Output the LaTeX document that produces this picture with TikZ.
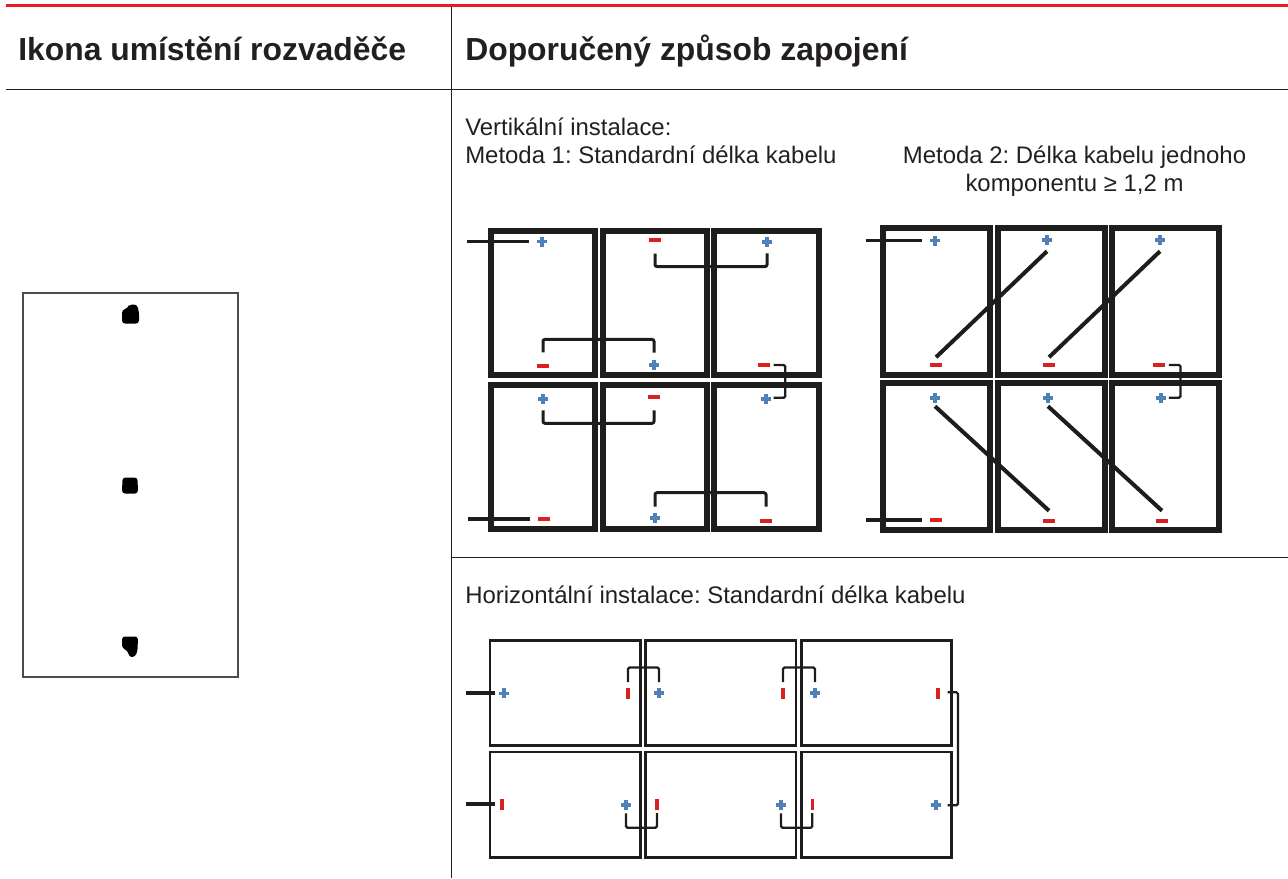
\documentclass[tikz,border=0pt]{standalone}
\usepackage{fontspec}
\setmainfont{Liberation Sans}
\frenchspacing
\usetikzlibrary{calc}
\definecolor{linered}{HTML}{ED1C24}
\definecolor{ink}{HTML}{231F20}
\definecolor{frame}{HTML}{1D1D1B}
\definecolor{termblue}{HTML}{4F81B8}
\definecolor{termred}{HTML}{D92020}
\def\px{0.75pt}
\tikzset{
	head/.style={anchor=base west, inner sep=0pt, text=ink, font=\fontsize{23.9}{28}\selectfont\bfseries},
	body/.style={anchor=base west, inner sep=0pt, text=ink, font=\fontsize{17.95}{22}\selectfont},
	rule/.style={ink, line width=1*\px},
	panelA/.style={draw=frame, line width=6*\px, inner sep=0pt, minimum width=104.5*\px, minimum height=144*\px},
	panelB/.style={draw=frame, line width=6*\px, inner sep=0pt, minimum width=107*\px, minimum height=147*\px},
	panelC/.style={draw=frame, line width=2.8*\px, inner sep=0pt, minimum width=150.5*\px, minimum height=105.5*\px},
	termplus/.style={inner sep=0pt, minimum size=10*\px, path picture={
		\fill[termblue] ([shift={(-5*\px,-1.8*\px)}]path picture bounding box.center) rectangle ([shift={(5*\px,1.8*\px)}]path picture bounding box.center);
		\fill[termblue] ([shift={(-1.8*\px,-5*\px)}]path picture bounding box.center) rectangle ([shift={(1.8*\px,5*\px)}]path picture bounding box.center);}},
	termminus/.style={fill=termred, inner sep=0pt, minimum width=12*\px, minimum height=4*\px},
	termminusv/.style={fill=termred, inner sep=0pt, minimum width=4*\px, minimum height=11*\px},
	lead/.style={frame, line width=3.8*\px},
	wire/.style={frame, line width=3*\px, rounded corners=2*\px},
	wirethin/.style={frame, line width=2.2*\px, rounded corners=1.5*\px},
	diag/.style={frame, line width=4*\px},
	blob/.style={fill=black, rounded corners=3*\px}
}
\begin{document}
\begin{tikzpicture}[x=0.75pt, y=-0.75pt]
	\useasboundingbox (0,0) rectangle (1288,878);

	% table rules
	\coordinate (ruleL) at (6,89.5);
	\coordinate (ruleR) at (1288,89.5);
	\coordinate (colT) at (451.5,7);
	\coordinate (colB) at (451.5,878);
	\coordinate (midL) at (451.5,557.5);
	\coordinate (midR) at (1288,557.5);
	\coordinate (topL) at (6,5.3);
	\coordinate (topR) at (1288,5.3);
	\draw[linered, line width=3*\px] (topL) -- (topR);
	\draw[rule] (ruleL) -- (ruleR);
	\draw[rule] (colT) -- (colB);
	\draw[rule] (midL) -- (midR);

	% texts
	\node[head] (headL) at (18,60.5) {Ikona umístění rozvaděče};
	\node[head] (headR) at (465,60.5) {Doporučený způsob zapojení};
	\node[body] (vert) at (465,135) {Vertikální instalace:};
	\node[body] (met1) at (465,163) {Metoda 1: Standardní délka kabelu};
	\node[body, anchor=base] (met2a) at (1074.5,163) {Metoda 2: Délka kabelu jednoho};
	\node[body, anchor=base] (met2b) at (1074.5,191) {komponentu ≥ 1,2 m};
	\node[body] (horiz) at (465,603) {Horizontální instalace: Standardní délka kabelu};

	% icon
	\node[draw=black!70, line width=1.2*\px, inner sep=0pt, minimum width=215*\px, minimum height=384*\px] (icon) at (130.5,485) {};
	\fill[blob] (122,310) -- (128,308) -- (129,304.5) -- (137,304.5) -- (139,312) -- (139,323.5) -- (122,323.5) -- cycle;
	\fill[blob] (122.5,477.5) -- (137.5,477.5) -- (138,493.5) -- (122,493.5) -- cycle;
	\fill[blob] (122,636.5) -- (138,636.5) -- (137.5,651) -- (135,657) -- (129,657) -- (128,651) -- (122,648) -- cycle;

	% metoda 1
	\node[panelA] (A11) at (543.2,303) {};
	\node[panelA] (A12) at (655,303) {};
	\node[panelA] (A13) at (766.6,303) {};
	\node[panelA] (A21) at (543.2,457) {};
	\node[panelA] (A22) at (655,457) {};
	\node[panelA] (A23) at (766.6,457) {};

	\node[termplus] (A11p) at (542,241.5) {};
	\node[termminus] (A11m) at (543,366) {};
	\node[termminus] (A12m) at (655,240) {};
	\node[termplus] (A12p) at (654,365) {};
	\node[termplus] (A13p) at (767,242) {};
	\node[termminus] (A13m) at (764,365) {};
	\node[termplus] (A21p) at (543,399) {};
	\node[termminus] (A21m) at (544,519) {};
	\node[termminus] (A22m) at (654,397) {};
	\node[termplus] (A22p) at (655,518) {};
	\node[termplus] (A23p) at (766,399) {};
	\node[termminus] (A23m) at (766,521) {};

	\coordinate (A1in) at (467,241.5);
	\coordinate (A2in) at (468,519);
	\draw[lead] (A1in) -- ([xshift=-8*\px]A11p.west);
	\draw[lead] (A2in) -- ([xshift=-8*\px]A21m.west);
	\draw[wire] ([yshift=-11.3*\px]A12m.south) -- ++(0,13) -| ([yshift=-6*\px]A13p.south);
	\draw[wire] ([yshift=11.3*\px]A11m.north) -- ++(0,-13) -| ([yshift=7*\px]A12p.north);
	\draw[wire] ([yshift=-6*\px]A21p.south) -- ++(0,13) -| ([yshift=-11*\px]A22m.south);
	\draw[wire] ([yshift=6*\px]A22p.north) -- ++(0,-14) -| ([yshift=12*\px]A23m.north);
	\draw[wirethin] ([xshift=3.3*\px]A13m.east) -- ++(11.7,0) |- ([shift={(2.3*\px,1.3*\px)}]A23p.east);

	% metoda 2
	\node[panelB] (B11) at (936.6,301.6) {};
	\node[panelB] (B12) at (1051.2,301.6) {};
	\node[panelB] (B13) at (1165.4,301.6) {};
	\node[panelB] (B21) at (936.6,456.6) {};
	\node[panelB] (B22) at (1051.2,456.6) {};
	\node[panelB] (B23) at (1165.4,456.6) {};

	\node[termplus] (B11p) at (935,240.5) {};
	\node[termminus] (B11m) at (936,365) {};
	\node[termplus] (B12p) at (1047,240) {};
	\node[termminus] (B12m) at (1049,365) {};
	\node[termplus] (B13p) at (1160,240) {};
	\node[termminus] (B13m) at (1159,365) {};
	\node[termplus] (B21p) at (935,398) {};
	\node[termminus] (B21m) at (936,520) {};
	\node[termplus] (B22p) at (1048,398) {};
	\node[termminus] (B22m) at (1049,521) {};
	\node[termplus] (B23p) at (1161,398) {};
	\node[termminus] (B23m) at (1162,521) {};

	\coordinate (B1in) at (866,240.5);
	\coordinate (B2in) at (866,520);
	\draw[lead] (B1in) -- ([xshift=-8*\px]B11p.west);
	\draw[lead] (B2in) -- ([xshift=-8*\px]B21m.west);
	\draw[diag] ([yshift=5.5*\px]B11m.north) -- ([yshift=-6*\px]B12p.south);
	\draw[diag] ([yshift=5.5*\px]B12m.north) -- ([yshift=-6*\px]B13p.south);
	\draw[diag] ([yshift=-3*\px]B21p.south) -- ([yshift=8*\px]B22m.north);
	\draw[diag] ([yshift=-3*\px]B22p.south) -- ([yshift=8*\px]B23m.north);
	\draw[wirethin] ([xshift=3.7*\px]B13m.east) -- ++(11.6,0) |- ([shift={(2.7*\px,0.3*\px)}]B23p.east);

	% horizontalni
	\node[panelC] (C11) at (565.2,692.9) {};
	\node[panelC] (C12) at (720.8,692.9) {};
	\node[panelC] (C13) at (876.5,692.9) {};
	\node[panelC] (C21) at (565.2,804.7) {};
	\node[panelC] (C22) at (720.8,804.7) {};
	\node[panelC] (C23) at (876.5,804.7) {};

	\node[termplus] (C11p) at (504,693.3) {};
	\node[termminusv] (C11m) at (628,693.3) {};
	\node[termplus] (C12p) at (659,693) {};
	\node[termminusv] (C12m) at (783,693.3) {};
	\node[termplus] (C13p) at (815,693) {};
	\node[termminusv] (C13m) at (938,693.3) {};
	\node[termminusv] (C21m) at (502,804.3) {};
	\node[termplus] (C21p) at (626,805) {};
	\node[termminusv] (C22m) at (657,804.3) {};
	\node[termplus] (C22p) at (781,805) {};
	\node[termminusv, minimum width=3*\px] (C23m) at (812.3,804.3) {};
	\node[termplus] (C23p) at (936,805) {};

	\coordinate (C1in) at (466,693.3);
	\coordinate (C2in) at (466,804.3);
	\draw[lead] (C1in) -- ([xshift=-4*\px]C11p.west);
	\draw[lead] (C2in) -- ([xshift=-5*\px]C21m.west);
	\draw[wirethin] ([yshift=5.5*\px]C11m.north) -- ++(0,-14.5) -| ([yshift=5.5*\px]C12p.north);
	\draw[wirethin] ([yshift=5.5*\px]C12m.north) -- ++(0,-14.5) -| ([yshift=5.5*\px]C13p.north);
	\draw[wirethin] ([yshift=-3*\px]C21p.south) -- ++(0,14.5) -| ([yshift=-3*\px]C22m.south);
	\draw[wirethin] ([yshift=-3*\px]C22p.south) -- ++(0,14.5) -| ([yshift=-3*\px]C23m.south);
	\draw[wirethin] ([shift={(7.3*\px,1*\px)}]C13m.east) -- ++(10.4,0) |- ([shift={(6.3*\px,-0.3*\px)}]C23p.east);
\end{tikzpicture}
\end{document}
